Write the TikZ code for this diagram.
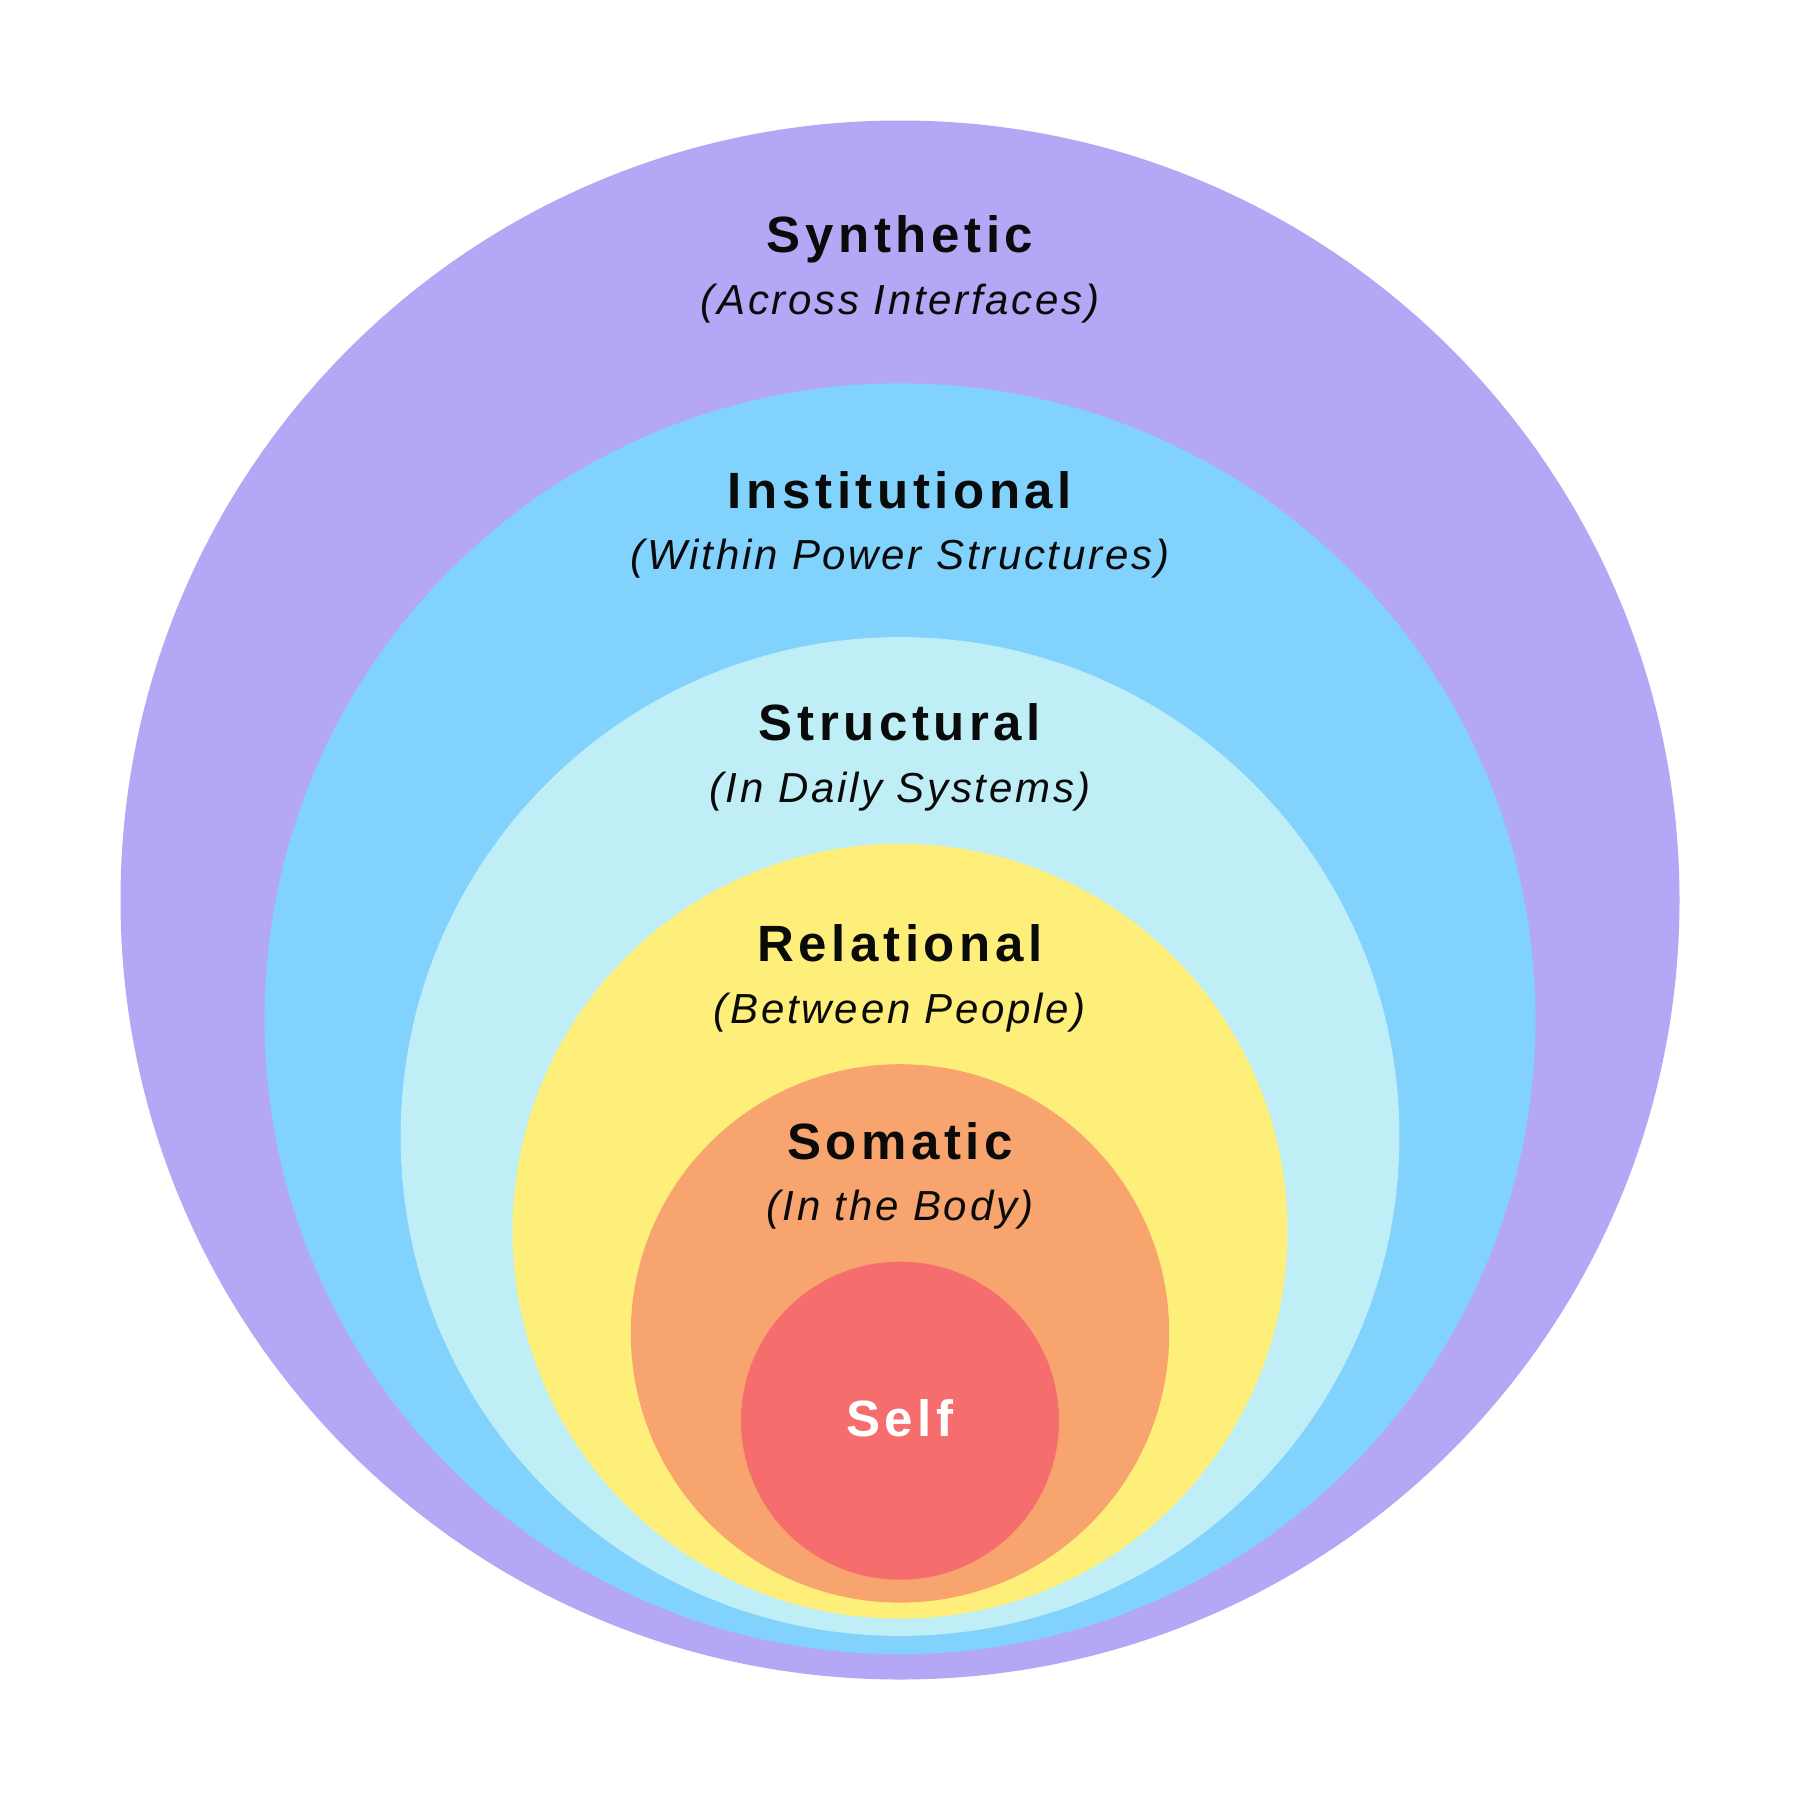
\documentclass[tikz,border=0pt]{standalone}
\usepackage{fontspec}
\setmainfont{Liberation Sans}
\newfontfamily\titlefont[LetterSpace=9]{Liberation Sans}
\newfontfamily\subfont[LetterSpace=6.5]{Liberation Sans}
\definecolor{cpurple}{HTML}{B4A7F5}
\definecolor{cblue}{HTML}{82D2FE}
\definecolor{ccyan}{HTML}{C0EEF7}
\definecolor{cyellow}{HTML}{FEEF7A}
\definecolor{corange}{HTML}{F7A46E}
\definecolor{cred}{HTML}{F56E6D}
\definecolor{ctext}{HTML}{0A0A0A}
\begin{document}
\begin{tikzpicture}[x=1pt,y=-1pt,
  ring/.style={circle,draw=none,inner sep=0pt,minimum size=#1},
  ttl/.style={anchor=base,text=ctext,font=\titlefont\fontsize{51}{60}\selectfont\bfseries},
  sub/.style={anchor=base,text=ctext,font=\subfont\fontsize{42}{50}\selectfont\itshape}]
\useasboundingbox (0,0) rectangle (1800,1800);
\fill[white] (0,0) rectangle (1800,1800);
\node[ring=1559, fill=cpurple] (c1) at (900,900) {};
\node[ring=1270.8, fill=cblue] (c2) at (900,1018.8) {};
\node[ring=998.8, fill=ccyan] (c3) at (900,1136.5) {};
\node[ring=774.8, fill=cyellow] (c4) at (900,1231.2) {};
\node[ring=538.4, fill=corange] (c5) at (900,1333.4) {};
\node[ring=318, fill=cred] (c6) at (900,1420.7) {};
\node[ttl] (t1) at (900,252) {Synthetic};
\node[sub] (s1) at (900,314) {(Across Interfaces)};
\node[ttl] (t2) at (900,508) {Institutional};
\node[sub] (s2) at (900,569) {(Within Power Structures)};
\node[ttl] (t3) at (900,740) {Structural};
\node[sub] (s3) at (900,802) {(In Daily Systems)};
\node[ttl] (t4) at (900,961) {Relational};
\node[sub] (s4) at (900,1023) {(Between People)};
\node[ttl] (t5) at (900,1159) {Somatic};
\node[sub] (s5) at (900,1220) {(In the Body)};
\node[ttl,text=white] (t6) at (900,1436) {Self};
\end{tikzpicture}
\end{document}
